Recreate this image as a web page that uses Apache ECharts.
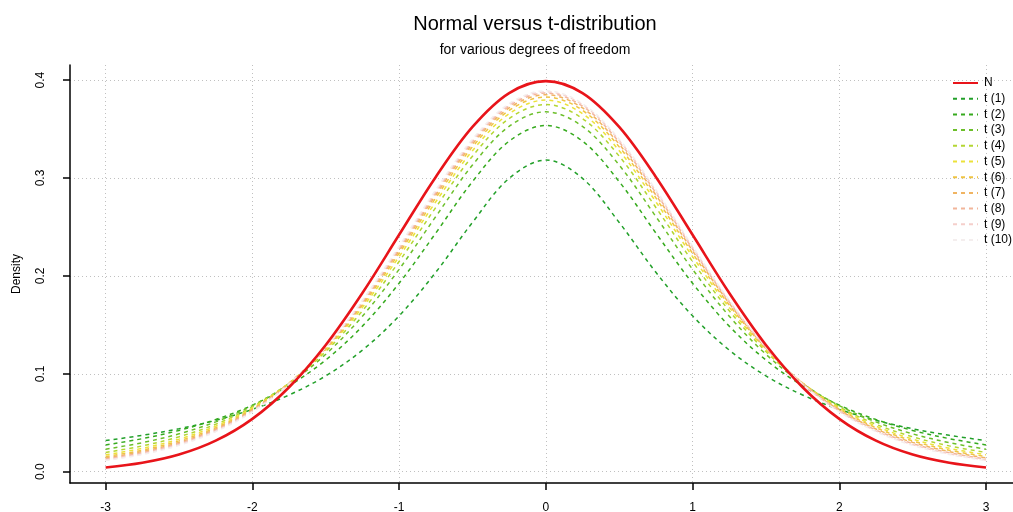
<!DOCTYPE html>
<html>
<head>
<meta charset="utf-8">
<script src="https://cdn.jsdelivr.net/npm/echarts@6/dist/echarts.min.js"></script>
<style>
html,body{margin:0;padding:0;background:#fff;}
#chart{width:1013px;height:512px;}
</style>
</head>
<body>
<div id="chart"></div>
<script>
// x grid of the curves
const xs = [-3, -2.75, -2.5, -2.25, -2, -1.75, -1.5, -1.25, -1, -0.75, -0.5, -0.25, 0,
            0.25, 0.5, 0.75, 1, 1.25, 1.5, 1.75, 2, 2.25, 2.5, 2.75, 3];

// densities (symmetric curves)
const normal = [0.0044,0.0091,0.0175,0.0317,0.0540,0.0863,0.1295,0.1826,0.2420,0.3011,0.3521,0.3867,0.3989,
                0.3867,0.3521,0.3011,0.2420,0.1826,0.1295,0.0863,0.0540,0.0317,0.0175,0.0091,0.0044];
const t1  = [0.0318,0.0372,0.0439,0.0525,0.0637,0.0784,0.0979,0.1242,0.1592,0.2037,0.2546,0.2996,0.3183,
             0.2996,0.2546,0.2037,0.1592,0.1242,0.0979,0.0784,0.0637,0.0525,0.0439,0.0372,0.0318];
const t2  = [0.0274,0.0338,0.0422,0.0533,0.0680,0.0878,0.1141,0.1487,0.1925,0.2438,0.2963,0.3376,0.3536,
             0.3376,0.2963,0.2438,0.1925,0.1487,0.1141,0.0878,0.0680,0.0533,0.0422,0.0338,0.0274];
const t3  = [0.0230,0.0297,0.0387,0.0509,0.0675,0.0900,0.1200,0.1589,0.2067,0.2606,0.3132,0.3527,0.3676,
             0.3527,0.3132,0.2606,0.2067,0.1589,0.1200,0.0900,0.0675,0.0509,0.0387,0.0297,0.0230];
const t4  = [0.0197,0.0264,0.0357,0.0485,0.0663,0.0905,0.1229,0.1644,0.2147,0.2699,0.3223,0.3607,0.3750,
             0.3607,0.3223,0.2699,0.2147,0.1644,0.1229,0.0905,0.0663,0.0485,0.0357,0.0264,0.0197];
const t5  = [0.0173,0.0239,0.0333,0.0466,0.0651,0.0905,0.1245,0.1679,0.2197,0.2757,0.3279,0.3657,0.3796,
             0.3657,0.3279,0.2757,0.2197,0.1679,0.1245,0.0905,0.0651,0.0466,0.0333,0.0239,0.0173];
const t6  = [0.0155,0.0220,0.0315,0.0450,0.0640,0.0904,0.1256,0.1703,0.2231,0.2797,0.3318,0.3691,0.3827,
             0.3691,0.3318,0.2797,0.2231,0.1703,0.1256,0.0904,0.0640,0.0450,0.0315,0.0220,0.0155];
const t7  = [0.0141,0.0206,0.0300,0.0437,0.0631,0.0902,0.1263,0.1720,0.2257,0.2826,0.3346,0.3715,0.3850,
             0.3715,0.3346,0.2826,0.2257,0.1720,0.1263,0.0902,0.0631,0.0437,0.0300,0.0206,0.0141];
const t8  = [0.0130,0.0194,0.0288,0.0426,0.0624,0.0899,0.1268,0.1733,0.2276,0.2848,0.3367,0.3734,0.3867,
             0.3734,0.3367,0.2848,0.2276,0.1733,0.1268,0.0899,0.0624,0.0426,0.0288,0.0194,0.0130];
const t9  = [0.0121,0.0184,0.0278,0.0417,0.0617,0.0897,0.1272,0.1743,0.2291,0.2866,0.3384,0.3748,0.3880,
             0.3748,0.3384,0.2866,0.2291,0.1743,0.1272,0.0897,0.0617,0.0417,0.0278,0.0184,0.0121];
const t10 = [0.0114,0.0176,0.0269,0.0409,0.0611,0.0895,0.1274,0.1751,0.2304,0.2880,0.3397,0.3760,0.3891,
             0.3760,0.3397,0.2880,0.2304,0.1751,0.1274,0.0895,0.0611,0.0409,0.0269,0.0176,0.0114];

const seriesNames = ['N','t (1)','t (2)','t (3)','t (4)','t (5)','t (6)','t (7)','t (8)','t (9)','t (10)'];
const seriesValues = [normal,t1,t2,t3,t4,t5,t6,t7,t8,t9,t10];
const seriesColors = ['#e8141a','#22a02a','#36aa1e','#6cbf2a','#b4d633','#ece23a','#efc443','#f0b462','#f2b59a','#f5cfcb','#f4eeee'];

const xTicks = [-3,-2,-1,0,1,2,3];
const yTicks = [0,0.1,0.2,0.3,0.4];
const yTickLabels = ['0.0','0.1','0.2','0.3','0.4'];

const FONT = '"Liberation Sans", Arial, Helvetica, sans-serif';

const series = seriesNames.map((name, i) => ({
  name: name,
  type: 'line',
  data: xs.map((x, j) => [x, seriesValues[i][j]]),
  smooth: 0.35,
  showSymbol: false,
  symbol: 'none',
  z: i === 0 ? 5 : 3,
  lineStyle: i === 0
    ? { color: seriesColors[i], width: 2.6, type: 'solid' }
    : { color: seriesColors[i], width: 1.5, type: [4, 4] },
  itemStyle: { color: seriesColors[i] },
  emphasis: { disabled: true },
  animation: false
}));

const chart = echarts.init(document.getElementById('chart'), null, { renderer: 'canvas' });
chart.setOption({
  animation: false,
  backgroundColor: '#ffffff',
  textStyle: { fontFamily: FONT },
  title: [
    { text: 'Normal versus t-distribution', left: 530, top: 9, textAlign: 'center',
      textStyle: { fontFamily: FONT, fontSize: 20, fontWeight: 'normal', color: '#000' } },
    { text: 'for various degrees of freedom', left: 530, top: 38, textAlign: 'center',
      textStyle: { fontFamily: FONT, fontSize: 14, fontWeight: 'normal', color: '#000' } }
  ],
  legend: {
    orient: 'vertical',
    left: 947, top: 72,
    itemWidth: 25, itemHeight: 12, itemGap: 3.7,
    selectedMode: false,
    data: seriesNames,
    itemStyle: { opacity: 0, borderWidth: 0 },
    textStyle: { fontFamily: FONT, fontSize: 12, color: '#000', padding: [0,0,0,1] }
  },
  grid: { left: 70, right: 0, top: 65, bottom: 29, containLabel: false, outerBoundsMode: 'none' },
  xAxis: {
    type: 'value', min: -3.243, max: 3.184,
    axisLine: { show: true, onZero: false, lineStyle: { color: '#000', width: 1.5 } },
    axisTick: { show: true, customValues: xTicks, length: 7, lineStyle: { color: '#000', width: 1.5 } },
    axisLabel: { customValues: xTicks, margin: 19, color: '#000', fontSize: 12, fontFamily: FONT,
      formatter: v => String(v) },
    splitLine: { show: true, lineStyle: { color: '#c0c0c0', type: [1, 3], width: 1 } }
  },
  yAxis: {
    type: 'value', min: -0.0115, max: 0.4154,
    name: 'Density', nameLocation: 'middle', nameGap: 47, nameRotate: 90,
    nameTextStyle: { fontFamily: FONT, fontSize: 12, color: '#000' },
    axisLine: { show: true, onZero: false, lineStyle: { color: '#000', width: 1.5 } },
    axisTick: { show: true, customValues: yTicks, length: 7, lineStyle: { color: '#000', width: 1.5 } },
    axisLabel: { customValues: yTicks, rotate: 90, margin: 23, color: '#000', fontSize: 12, fontFamily: FONT,
      formatter: v => yTickLabels[yTicks.findIndex(t => Math.abs(t - v) < 1e-9)] ?? String(v) },
    splitLine: { show: true, lineStyle: { color: '#c0c0c0', type: [1, 3], width: 1 } }
  },
  series: series
});
</script>
</body>
</html>
